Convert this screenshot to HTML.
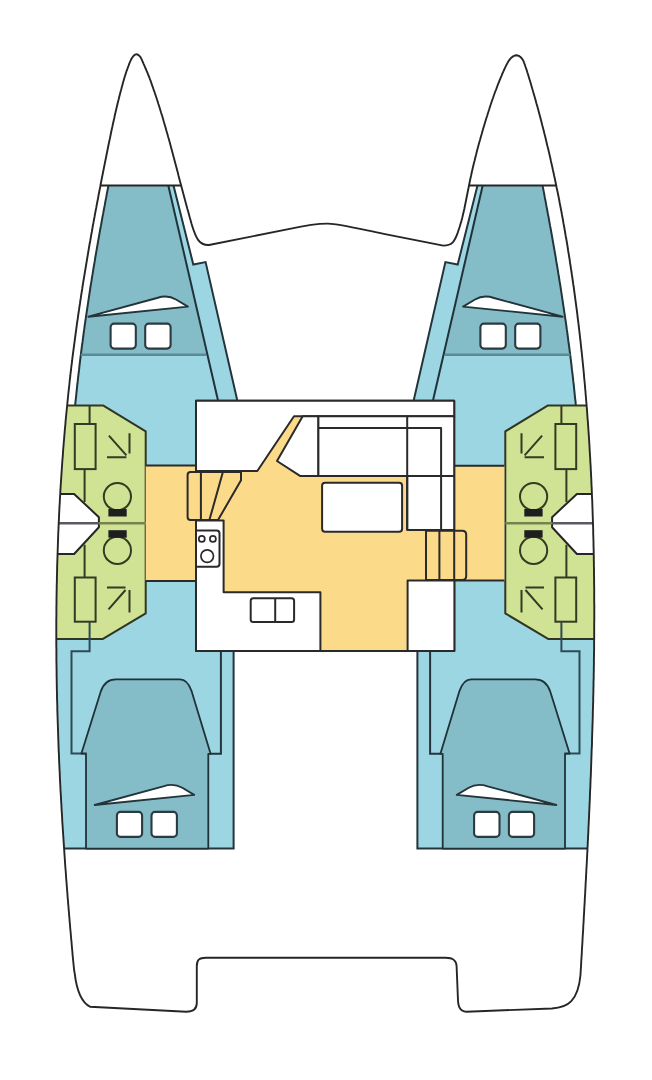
<!DOCTYPE html>
<html><head><meta charset="utf-8"><style>
html,body{margin:0;padding:0;background:#fff;width:652px;height:1080px;overflow:hidden}
svg{display:block}
</style></head><body>
<svg width="652" height="1080" viewBox="0 0 652 1080">
<defs>
<path id="outline" d="M90,1006.7 C83,1003 77,993 74.7,973.3 L74.1,970.0 73.8,967.0 73.5,964.0 73.2,961.0 72.9,958.0 72.6,955.0 72.4,952.0 72.1,949.0 71.8,946.0 71.6,943.0 71.3,940.0 71.0,937.0 70.8,934.0 70.5,931.0 70.2,928.0 70.0,925.0 69.7,922.0 69.5,919.0 69.2,916.0 69.0,913.0 68.7,910.0 68.5,907.0 68.2,904.0 68.0,901.0 67.7,898.0 67.5,895.0 67.3,892.0 67.0,889.0 66.8,886.0 66.6,883.0 66.3,880.0 66.1,877.0 65.9,874.0 65.7,871.0 65.4,868.0 65.2,865.0 65.0,862.0 64.8,859.0 64.6,856.0 64.4,853.0 64.2,850.0 64.0,847.0 63.8,844.0 63.6,841.0 63.4,838.0 63.2,835.0 63.0,832.0 62.8,829.0 62.6,826.0 62.4,823.0 62.2,820.0 62.1,817.0 61.9,814.0 61.7,811.0 61.5,808.0 61.4,805.0 61.2,802.0 61.0,799.0 60.9,796.0 60.7,793.0 60.5,790.0 60.4,787.0 60.2,784.0 60.1,781.0 59.9,778.0 59.8,775.0 59.7,772.0 59.5,769.0 59.4,766.0 59.2,763.0 59.1,760.0 59.0,757.0 58.9,754.0 58.7,751.0 58.6,748.0 58.5,745.0 58.4,742.0 58.3,739.0 58.2,736.0 58.1,733.0 58.0,730.0 57.9,727.0 57.8,724.0 57.7,721.0 57.6,718.0 57.5,715.0 57.4,712.0 57.3,709.0 57.3,706.0 57.2,703.0 57.1,700.0 57.0,697.0 57.0,694.0 56.9,691.0 56.8,688.0 56.8,685.0 56.7,682.0 56.7,679.0 56.6,676.0 56.6,673.0 56.6,670.0 56.5,667.0 56.5,664.0 56.4,661.0 56.4,658.0 56.4,655.0 56.4,652.0 56.4,649.0 56.3,646.0 56.3,643.0 56.3,640.0 56.3,637.0 56.3,634.0 56.3,631.0 56.3,628.0 56.3,625.0 56.3,622.0 56.3,619.0 56.4,616.0 56.4,613.0 56.4,610.0 56.4,607.0 56.5,604.0 56.5,601.0 56.5,598.0 56.6,595.0 56.6,592.0 56.7,589.0 56.7,586.0 56.8,583.0 56.9,580.0 56.9,577.0 57.0,574.0 57.1,571.0 57.1,568.0 57.2,565.0 57.3,562.0 57.4,559.0 57.5,556.0 57.6,553.0 57.7,550.0 57.8,547.0 57.9,544.0 58.0,541.0 58.1,538.0 58.2,535.0 58.3,532.0 58.5,529.0 58.6,526.0 58.7,523.0 58.9,520.0 59.0,517.0 59.1,514.0 59.3,511.0 59.4,508.0 59.6,505.0 59.8,502.0 59.9,499.0 60.1,496.0 60.3,493.0 60.4,490.0 60.6,487.0 60.8,484.0 61.0,481.0 61.2,478.0 61.4,475.0 61.6,472.0 61.8,469.0 62.0,466.0 62.2,463.0 62.4,460.0 62.7,457.0 62.9,454.0 63.1,451.0 63.3,448.0 63.6,445.0 63.8,442.0 64.1,439.0 64.3,436.0 64.6,433.0 64.8,430.0 65.1,427.0 65.4,424.0 65.6,421.0 65.9,418.0 66.2,415.0 66.5,412.0 66.8,409.0 67.1,406.0 67.4,403.0 67.7,400.0 68.0,397.0 68.3,394.0 68.6,391.0 69.0,388.0 69.3,385.0 69.6,382.0 69.9,379.0 70.3,376.0 70.6,373.0 71.0,370.0 71.3,367.0 71.7,364.0 72.1,361.0 72.4,358.0 72.8,355.0 73.2,352.0 73.6,349.0 74.0,346.0 74.4,343.0 74.8,340.0 75.2,337.0 75.6,334.0 76.0,331.0 76.4,328.0 76.8,325.0 77.2,322.0 77.7,319.0 78.1,316.0 78.5,313.0 79.0,310.0 79.4,307.0 79.9,304.0 80.3,301.0 80.8,298.0 81.2,295.0 81.7,292.0 82.2,289.0 82.6,286.0 83.1,283.0 83.6,280.0 84.1,277.0 84.6,274.0 85.1,271.0 85.6,268.0 86.1,265.0 86.6,262.0 87.1,259.0 87.6,256.0 88.1,253.0 88.6,250.0 89.1,247.0 89.6,244.0 90.2,241.0 90.7,238.0 91.2,235.0 91.8,232.0 92.3,229.0 92.8,226.0 93.4,223.0 93.9,220.0 94.5,217.0 95.0,214.0 95.6,211.0 96.2,208.0 96.7,205.0 97.3,202.0 97.9,199.0 98.4,196.0 99.0,193.0 99.6,190.0 100.2,187.0 100.7,184.0 101.3,181.0 101.9,178.0 102.5,175.0 103.1,172.0 103.7,169.0 104.3,166.0 104.9,163.0 105.5,160.0 106.1,157.0 106.7,154.0 107.3,151.0 107.9,148.0 108.5,145.0 109.1,142.0 109.8,139.0 110.4,136.0 111.0,133.0 111.6,130.0 112.3,127.0 112.9,124.0 113.6,121.0 114.3,118.0 114.9,115.0 115.6,112.0 116.3,109.0 117.0,106.0 117.7,103.0 118.5,100.0 119.2,97.0 120.0,94.0 120.5,92.0 L120.5,92.0 120.9,90.6 121.3,89.2 121.6,87.8 122.0,86.4 122.4,85.0 122.8,83.6 123.1,82.3 123.5,80.9 123.9,79.6 124.3,78.2 124.7,76.8 125.1,75.5 125.6,74.2 126.0,72.8 126.4,71.5 126.9,70.1 127.4,68.8 127.9,67.4 128.4,66.1 128.9,64.7 129.4,63.4 130.0,62.0 130.6,60.6 131.2,59.3 132.0,58.0 132.9,56.7 133.9,55.6 135.0,54.7 136.1,54.3 137.3,54.4 138.4,55.1 139.5,56.0 140.5,57.2 141.3,58.6 141.9,59.9 142.5,61.3 143.1,62.7 143.7,64.1 144.3,65.4 144.8,66.7 145.4,68.0 146.0,69.3 146.5,70.6 147.1,71.9 147.6,73.2 148.1,74.5 148.7,75.8 149.2,77.1 149.7,78.5 150.2,79.8 150.7,81.2 151.2,82.5 151.6,83.9 152.1,85.2 152.6,86.6 153.1,88.0 153.5,89.3 154.0,90.7 154.5,92.0 L154.5,92.0 155.5,95.0 156.5,98.0 157.5,101.0 158.4,104.0 159.4,107.0 160.3,110.0 161.2,113.0 162.2,116.0 163.1,119.0 163.9,122.0 164.8,125.0 165.7,128.0 166.5,131.0 167.4,134.0 168.2,137.0 169.1,140.0 169.9,143.0 170.7,146.0 171.5,149.0 172.3,152.0 173.1,155.0 173.9,158.0 174.7,161.0 175.5,164.0 176.3,167.0 177.1,170.0 177.9,173.0 178.6,176.0 179.4,179.0 180.2,182.0 181.0,185.0 181.8,188.0 182.6,191.0 183.4,194.0 184.2,197.0 185.0,200.0 185.8,203.0 186.6,206.0 187.4,209.0 188.3,212.0 189.1,215.0 189.9,218.0 190.8,221.0 191.6,224.0 192.2,226.0 C196,238 199,245.5 209,245 L289.7,228.9 C305,225.5 318,223.5 328,223.6 C340,224 360,229 383.8,233.9 L443.3,245.6 C453,245.6 455,240 457.4,233.7 L458.6,230.0 459.6,227.0 460.5,224.0 461.4,221.0 462.2,218.0 462.9,215.0 463.6,212.0 464.3,209.0 464.9,206.0 465.5,203.0 466.1,200.0 466.7,197.0 467.3,194.0 467.9,191.0 468.5,188.0 469.1,185.0 469.7,182.0 470.3,179.0 471.0,176.0 471.6,173.0 472.3,170.0 473.0,167.0 473.7,164.0 474.5,161.0 475.2,158.0 476.0,155.0 476.7,152.0 477.5,149.0 478.3,146.0 479.1,143.0 480.0,140.0 480.8,137.0 481.7,134.0 482.5,131.0 483.4,128.0 484.3,125.0 485.2,122.0 486.1,119.0 487.1,116.0 488.0,113.0 489.0,110.0 489.9,107.0 490.9,104.0 491.9,101.0 493.0,98.0 494.0,95.0 495.1,92.0 L495.1,92.0 495.6,90.6 496.2,89.3 496.7,87.9 497.2,86.5 497.7,85.2 498.2,83.8 498.8,82.5 499.3,81.1 499.8,79.8 500.4,78.5 500.9,77.2 501.5,75.8 502.0,74.5 502.6,73.2 503.2,71.9 503.8,70.5 504.4,69.2 505.0,67.9 505.6,66.6 506.3,65.2 507.0,63.9 507.7,62.6 508.4,61.3 509.3,60.1 510.2,58.9 511.2,57.8 512.3,56.9 513.6,56.1 514.9,55.5 516.2,55.3 517.6,55.5 518.9,55.9 520.1,56.7 521.2,57.7 522.1,58.8 522.9,60.0 523.6,61.4 524.1,62.8 524.7,64.3 525.2,65.7 525.6,67.1 526.1,68.5 526.6,69.9 527.0,71.2 527.4,72.6 527.9,74.0 528.3,75.3 528.7,76.7 529.1,78.1 529.5,79.4 530.0,80.8 530.4,82.2 530.8,83.6 531.2,85.0 531.6,86.4 532.0,87.8 532.4,89.2 532.9,90.6 533.2,92.0 L533.2,92.0 534.1,95.0 535.0,98.0 535.8,101.0 536.6,104.0 537.5,107.0 538.3,110.0 539.1,113.0 539.9,116.0 540.7,119.0 541.5,122.0 542.2,125.0 543.0,128.0 543.8,131.0 544.5,134.0 545.3,137.0 546.0,140.0 546.7,143.0 547.4,146.0 548.2,149.0 548.9,152.0 549.6,155.0 550.3,158.0 550.9,161.0 551.6,164.0 552.3,167.0 552.9,170.0 553.6,173.0 554.2,176.0 554.9,179.0 555.5,182.0 556.1,185.0 556.7,188.0 557.4,191.0 558.0,194.0 558.6,197.0 559.2,200.0 559.7,203.0 560.3,206.0 560.9,209.0 561.5,212.0 562.0,215.0 562.6,218.0 563.1,221.0 563.6,224.0 564.2,227.0 564.7,230.0 565.2,233.0 565.7,236.0 566.3,239.0 566.8,242.0 567.3,245.0 567.8,248.0 568.2,251.0 568.7,254.0 569.2,257.0 569.7,260.0 570.1,263.0 570.6,266.0 571.0,269.0 571.5,272.0 571.9,275.0 572.4,278.0 572.8,281.0 573.2,284.0 573.7,287.0 574.1,290.0 574.5,293.0 574.9,296.0 575.3,299.0 575.7,302.0 576.1,305.0 576.5,308.0 576.9,311.0 577.3,314.0 577.6,317.0 578.0,320.0 578.4,323.0 578.7,326.0 579.1,329.0 579.4,332.0 579.8,335.0 580.1,338.0 580.5,341.0 580.8,344.0 581.1,347.0 581.4,350.0 581.8,353.0 582.1,356.0 582.4,359.0 582.7,362.0 583.0,365.0 583.3,368.0 583.6,371.0 583.9,374.0 584.1,377.0 584.4,380.0 584.7,383.0 585.0,386.0 585.2,389.0 585.5,392.0 585.7,395.0 586.0,398.0 586.2,401.0 586.5,404.0 586.7,407.0 587.0,410.0 587.2,413.0 587.4,416.0 587.6,419.0 587.9,422.0 588.1,425.0 588.3,428.0 588.5,431.0 588.7,434.0 588.9,437.0 589.1,440.0 589.3,443.0 589.5,446.0 589.6,449.0 589.8,452.0 590.0,455.0 590.2,458.0 590.3,461.0 590.5,464.0 590.7,467.0 590.8,470.0 591.0,473.0 591.1,476.0 591.3,479.0 591.4,482.0 591.5,485.0 591.7,488.0 591.8,491.0 591.9,494.0 592.0,497.0 592.2,500.0 592.3,503.0 592.4,506.0 592.5,509.0 592.6,512.0 592.7,515.0 592.8,518.0 592.9,521.0 593.0,524.0 593.1,527.0 593.2,530.0 593.2,533.0 593.3,536.0 593.4,539.0 593.5,542.0 593.5,545.0 593.6,548.0 593.7,551.0 593.7,554.0 593.8,557.0 593.8,560.0 593.9,563.0 593.9,566.0 594.0,569.0 594.0,572.0 594.0,575.0 594.1,578.0 594.1,581.0 594.1,584.0 594.2,587.0 594.2,590.0 594.2,593.0 594.2,596.0 594.2,599.0 594.2,602.0 594.3,605.0 594.3,608.0 594.3,611.0 594.3,614.0 594.3,617.0 594.3,620.0 594.2,623.0 594.2,626.0 594.2,629.0 594.2,632.0 594.2,635.0 594.2,638.0 594.1,641.0 594.1,644.0 594.1,647.0 594.1,650.0 594.0,653.0 594.0,656.0 593.9,659.0 593.9,662.0 593.9,665.0 593.8,668.0 593.8,671.0 593.7,674.0 593.7,677.0 593.6,680.0 593.5,683.0 593.5,686.0 593.4,689.0 593.4,692.0 593.3,695.0 593.2,698.0 593.2,701.0 593.1,704.0 593.0,707.0 592.9,710.0 592.8,713.0 592.8,716.0 592.7,719.0 592.6,722.0 592.5,725.0 592.4,728.0 592.3,731.0 592.2,734.0 592.1,737.0 592.0,740.0 592.0,743.0 591.9,746.0 591.7,749.0 591.6,752.0 591.5,755.0 591.4,758.0 591.3,761.0 591.2,764.0 591.1,767.0 591.0,770.0 590.9,773.0 590.8,776.0 590.6,779.0 590.5,782.0 590.4,785.0 590.3,788.0 590.1,791.0 590.0,794.0 589.9,797.0 589.8,800.0 589.6,803.0 589.5,806.0 589.4,809.0 589.2,812.0 589.1,815.0 589.0,818.0 588.8,821.0 588.7,824.0 588.5,827.0 588.4,830.0 588.3,833.0 588.1,836.0 588.0,839.0 587.8,842.0 587.7,845.0 587.5,848.0 587.4,851.0 587.2,854.0 587.1,857.0 586.9,860.0 586.8,863.0 586.6,866.0 586.4,869.0 586.3,872.0 586.1,875.0 586.0,878.0 585.8,881.0 585.6,884.0 585.5,887.0 585.3,890.0 585.2,893.0 585.0,896.0 584.8,899.0 584.7,902.0 584.5,905.0 584.3,908.0 584.2,911.0 584.0,914.0 583.8,917.0 583.7,920.0 583.5,923.0 583.3,926.0 583.2,929.0 583.0,932.0 582.8,935.0 582.6,938.0 582.5,941.0 582.3,944.0 582.1,947.0 581.9,950.0 581.8,953.0 581.6,956.0 581.4,959.0 581.2,962.0 581.1,965.0 580.9,968.0 580.7,971.0 580.5,974.0 580.5,975.0 C578,1001 568,1007.5 552,1008.5 L466.4,1011.7 C459,1011.5 458,1005 457.9,998 L456.6,966.3 C456.3,960 453,957.7 445.6,957.7 L205.9,957.7 C199,957.7 196.8,960 196.8,966 L196.8,1003 C196.8,1009 193,1011.7 186.3,1011.7 Z"/>
<clipPath id="clip"><use href="#outline"/></clipPath>
<g id="bed">
  <path d="M88.4,316.7 L157,298 Q167.5,294.5 176,299.5 L187.9,306.6 Z" fill="#fff" stroke="#23343a" stroke-width="1.9" stroke-linejoin="round"/>
  <rect x="110.6" y="323.6" width="25.2" height="25" rx="3.5" fill="#fff" stroke="#2b3a40" stroke-width="2.1"/>
  <rect x="145.2" y="323.6" width="25.4" height="25" rx="3.5" fill="#fff" stroke="#2b3a40" stroke-width="2.1"/>
</g>
<g id="hull">
  <path d="M107.4,185.4 L173.5,185.4 L193.3,264.5 L205.6,262.1 L237.2,400 L237.2,651 L233.6,651 L233.6,848.6 L59.1,848.6 58.7,842.6 58.3,836.6 57.9,830.6 57.5,824.6 57.1,818.6 56.8,812.6 56.4,806.6 56.1,800.6 55.8,794.6 55.5,788.6 55.2,782.6 54.9,776.6 54.6,770.6 54.3,764.6 54.1,758.6 53.8,752.6 53.6,746.6 53.3,740.6 53.1,734.6 52.9,728.6 52.7,722.6 52.5,716.6 52.4,710.6 52.2,704.6 52.1,698.6 51.9,692.6 51.8,686.6 51.7,680.6 51.6,674.6 51.5,668.6 51.5,662.6 51.4,656.6 51.4,650.6 51.3,644.6 51.3,638.6 51.3,632.6 51.3,626.6 51.3,620.6 51.4,614.6 51.4,608.6 51.5,602.6 51.6,596.6 51.7,590.6 51.8,584.6 51.9,578.6 52.0,572.6 52.2,566.6 52.3,560.6 52.5,554.6 52.7,548.6 52.9,542.6 53.2,536.6 53.4,530.6 53.7,524.6 53.9,518.6 54.2,512.6 54.5,506.6 54.8,500.6 55.2,494.6 55.5,488.6 55.9,482.6 56.3,476.6 56.7,470.6 57.1,464.6 57.5,458.6 58.0,452.6 58.5,446.6 58.9,440.6 59.4,434.6 60.0,428.6 60.5,422.6 61.1,416.6 61.6,410.6 62.2,405.0 L75.2,405 L75.2,405.0 75.5,401.4 76.0,397.4 76.4,393.4 76.8,389.4 77.2,385.4 77.7,381.4 78.1,377.4 78.6,373.4 79.1,369.4 79.5,365.4 80.0,361.4 80.5,357.4 81.0,353.4 81.5,349.4 82.0,345.4 82.6,341.4 83.1,337.4 83.6,333.4 84.2,329.4 84.7,325.4 85.3,321.4 85.9,317.4 86.5,313.4 87.1,309.4 87.7,305.4 88.3,301.4 88.9,297.4 89.5,293.4 90.1,289.4 90.7,285.4 91.4,281.4 92.0,277.4 92.7,273.4 93.3,269.4 94.0,265.4 94.7,261.4 95.3,257.4 96.0,253.4 96.7,249.4 97.4,245.4 98.1,241.4 98.8,237.4 99.5,233.4 100.2,229.4 101.0,225.4 101.7,221.4 102.4,217.4 103.2,213.4 103.9,209.4 104.7,205.4 105.4,201.4 106.2,197.4 106.9,193.4 107.7,189.4 108.5,185.4 Z" fill="#9DD6E3" stroke="none"/>
  <path d="M173.5,185.4 L193.3,264.5 L205.6,262.1 L237.2,400 M233.6,651 L233.6,848.6 L50,848.6" fill="none" stroke="#23343a" stroke-width="2"/>
  <path d="M168.3,185.4 L206.2,354.7 L80.8,354.7 81.0,353.4 81.5,349.4 82.0,345.4 82.6,341.4 83.1,337.4 83.6,333.4 84.2,329.4 84.7,325.4 85.3,321.4 85.9,317.4 86.5,313.4 87.1,309.4 87.7,305.4 88.3,301.4 88.9,297.4 89.5,293.4 90.1,289.4 90.7,285.4 91.4,281.4 92.0,277.4 92.7,273.4 93.3,269.4 94.0,265.4 94.7,261.4 95.3,257.4 96.0,253.4 96.7,249.4 97.4,245.4 98.1,241.4 98.8,237.4 99.5,233.4 100.2,229.4 101.0,225.4 101.7,221.4 102.4,217.4 103.2,213.4 103.9,209.4 104.7,205.4 105.4,201.4 106.2,197.4 106.9,193.4 107.7,189.4 108.5,185.4 Z" fill="#84BCC8"/>
  <path d="M108.5,185.4 107.7,189.4 106.9,193.4 106.2,197.4 105.4,201.4 104.7,205.4 103.9,209.4 103.2,213.4 102.4,217.4 101.7,221.4 101.0,225.4 100.2,229.4 99.5,233.4 98.8,237.4 98.1,241.4 97.4,245.4 96.7,249.4 96.0,253.4 95.3,257.4 94.7,261.4 94.0,265.4 93.3,269.4 92.7,273.4 92.0,277.4 91.4,281.4 90.7,285.4 90.1,289.4 89.5,293.4 88.9,297.4 88.3,301.4 87.7,305.4 87.1,309.4 86.5,313.4 85.9,317.4 85.3,321.4 84.7,325.4 84.2,329.4 83.6,333.4 83.1,337.4 82.6,341.4 82.0,345.4 81.5,349.4 81.0,353.4 80.5,357.4 80.0,361.4 79.5,365.4 79.1,369.4 78.6,373.4 78.1,377.4 77.7,381.4 77.2,385.4 76.8,389.4 76.4,393.4 76.0,397.4 75.5,401.4 75.2,405.0" fill="none" stroke="#23343a" stroke-width="2"/>
  <line x1="80.8" y1="354.7" x2="206.2" y2="354.7" stroke="#5a8a95" stroke-width="2.5"/>
  <line x1="168.3" y1="185.4" x2="217.9" y2="400" stroke="#1f3238" stroke-width="2"/>
  <use href="#bed"/>
  <!-- green head -->
  <path d="M51.3,639.1 51.3,633.1 51.3,627.1 51.3,621.1 51.4,615.1 51.4,609.1 51.5,603.1 51.6,597.1 51.7,591.1 51.8,585.1 51.9,579.1 52.0,573.1 52.2,567.1 52.3,561.1 52.5,555.1 52.7,549.1 52.9,543.1 53.1,537.1 53.4,531.1 53.6,525.1 53.9,519.1 54.2,513.1 54.5,507.1 54.8,501.1 55.1,495.1 55.5,489.1 55.9,483.1 56.2,477.1 56.6,471.1 57.1,465.1 57.5,459.1 57.9,453.1 58.4,447.1 58.9,441.1 59.4,435.1 59.9,429.1 60.5,423.1 61.0,417.1 61.6,411.1 62.1,405.6 L103.4,405.6 L145.7,431.4 L145.7,613.4 L102.5,639.1 Z" fill="#D0E294" stroke="#2f3622" stroke-width="2" stroke-linejoin="round"/>
  <path d="M55.2,493.9 L74.1,493.9 L98.9,517.2 L98.9,527.3 L74.1,554 L52.5,554 Z" fill="#fff" stroke="#262626" stroke-width="2" stroke-linejoin="round"/>
  <line x1="53.7" y1="523.3" x2="98.9" y2="523.3" stroke="#5a5a62" stroke-width="2.6"/><line x1="98.9" y1="523.3" x2="145.7" y2="523.3" stroke="#76834f" stroke-width="2.6"/>
  <g fill="none" stroke="#333b22" stroke-width="2">
    <line x1="89.6" y1="405.6" x2="89.6" y2="424"/>
    <rect x="74.8" y="424" width="20.8" height="45.1"/>
    <line x1="84.6" y1="469.1" x2="84.6" y2="502"/>
    <line x1="84.6" y1="544.8" x2="84.6" y2="577.5"/>
    <rect x="74.8" y="577.5" width="20.8" height="44.2"/>
    <path d="M108.9,435.6 L126.4,455.3 M107,457.2 L126.4,457.2 M129.5,433.3 L129.5,453.5"/>
    <path d="M108.5,609.3 L125.5,590 M107,587.6 L125.5,587.6 M129.5,590 L129.5,612.5"/>
    <circle cx="117.4" cy="496.6" r="13.6"/>
    <circle cx="117.4" cy="550.4" r="13.6"/>
  </g>
  <path d="M89.6,621.7 L89.6,651.3 L71.5,651.3 L71.5,753.5 L86,753.5" fill="none" stroke="#2b4a52" stroke-width="2"/>
  <rect x="108.4" y="509" width="18.3" height="7.5" fill="#1e1e1e"/>
  <rect x="108.4" y="530.2" width="18.3" height="7.5" fill="#1e1e1e"/>
  <!-- aft cabin -->
  <path d="M81.4,753.5 L100.6,692 Q104.5,679.3 116,679.3 L179.9,679.3 Q187.5,679.3 191.4,690.6 L210.6,753.8 L208.3,753.8 L208.3,848.6 L86,848.6 L86,753.5 Z" fill="#84BCC8" stroke="#1f3238" stroke-width="1.8" stroke-linejoin="round"/>
  <path d="M220.9,651 L220.9,753.8 L209.8,753.8" fill="none" stroke="#23343a" stroke-width="2"/>
  <g transform="translate(6.3,488.3)"><use href="#bed"/></g>
</g>
</defs>
<use href="#outline" fill="#fff"/>
<g clip-path="url(#clip)">
<use href="#hull"/>
<g transform="matrix(-1,0,0,1,651,0)"><use href="#hull"/></g>
</g>
<use href="#outline" fill="none" stroke="#262626" stroke-width="1.9" stroke-linejoin="round"/>
<line x1="100.5" y1="185.4" x2="181.1" y2="185.4" stroke="#262626" stroke-width="2"/>
<line x1="469.0" y1="185.4" x2="556.2" y2="185.4" stroke="#262626" stroke-width="2"/>
<!-- saloon -->
<g stroke="#2a2a2a" stroke-width="2" stroke-linejoin="round">
  <rect x="145.7" y="465.5" width="50.3" height="115.5" fill="#FBDA8A" stroke="none"/>
  <rect x="454.2" y="465.8" width="50.2" height="114.8" fill="#FBDA8A" stroke="none"/>
  <rect x="196" y="400.7" width="258.2" height="250.7" fill="#FBDA8A" stroke="none"/>
  <path d="M145.7,465.5 L196,465.5 M145.7,581 L196,581 M454.2,465.8 L504.4,465.8 M454.2,580.6 L504.4,580.6 M196,472 L196,400.7 L454.2,400.7 L454.2,651 L196,651 L196,520" fill="none"/>
  <path d="M196,400.7 L454.2,400.7 L454.2,416.2 L294,416.2 L257.3,471 L196,471 Z" fill="#fff"/>
  <path d="M302.7,416.2 L318.4,416.2 L318.4,475.9 L300,475.9 L277,461 Z" fill="#fff"/>
  <path d="M318.4,416.2 L454.2,416.2 L454.2,529.9 L407.2,529.9 L407.2,475.9 L318.4,475.9 Z" fill="#fff"/>
  <path d="M318.4,428 L441.1,428 L441.1,529.9 M407.2,416.2 L407.2,529.9 M407.2,475.9 L454.2,475.9" fill="none"/>
  <rect x="322.1" y="482.8" width="80" height="49" rx="3" fill="#fff"/>
  <path d="M196,520.5 L223.6,520.5 L223.6,592.3 L320.4,592.3 L320.4,651 L196,651 Z" fill="#fff"/>
  <path d="M196,530.6 L216.5,530.6 Q219.5,530.6 219.5,533.6 L219.5,563.8 Q219.5,566.8 216.5,566.8 L196,566.8" fill="none"/>
  <rect x="250.7" y="598.2" width="43.4" height="23.8" rx="2.5" fill="#fff"/>
  <line x1="275.2" y1="598.2" x2="275.2" y2="622"/>
  <rect x="407.6" y="580.5" width="46.8" height="70.5" fill="#fff"/>
  <path d="M196,472 L190.6,472 Q187.6,472 187.6,475 L187.6,517.1 Q187.6,520.1 190.6,520.1 L218,520.1 L241,480.2 L241,472 Z" fill="none"/>
  <path d="M200.9,472 L200.9,520.1 M222.9,472 L209.4,520.1" fill="none"/>
  <path d="M426,530.7 L462.2,530.7 Q466.2,530.7 466.2,534.7 L466.2,576 Q466.2,580 462.2,580 L426,580 M426,530.7 L426,580 M439.4,530.7 L439.4,580" fill="none"/>
</g>
<g fill="none" stroke="#2a2a2a" stroke-width="1.7">
  <circle cx="201.8" cy="538.9" r="3"/>
  <circle cx="212.9" cy="538.9" r="3"/>
  <circle cx="207.2" cy="556.1" r="6.3"/>
</g>
</svg>
</body></html>
